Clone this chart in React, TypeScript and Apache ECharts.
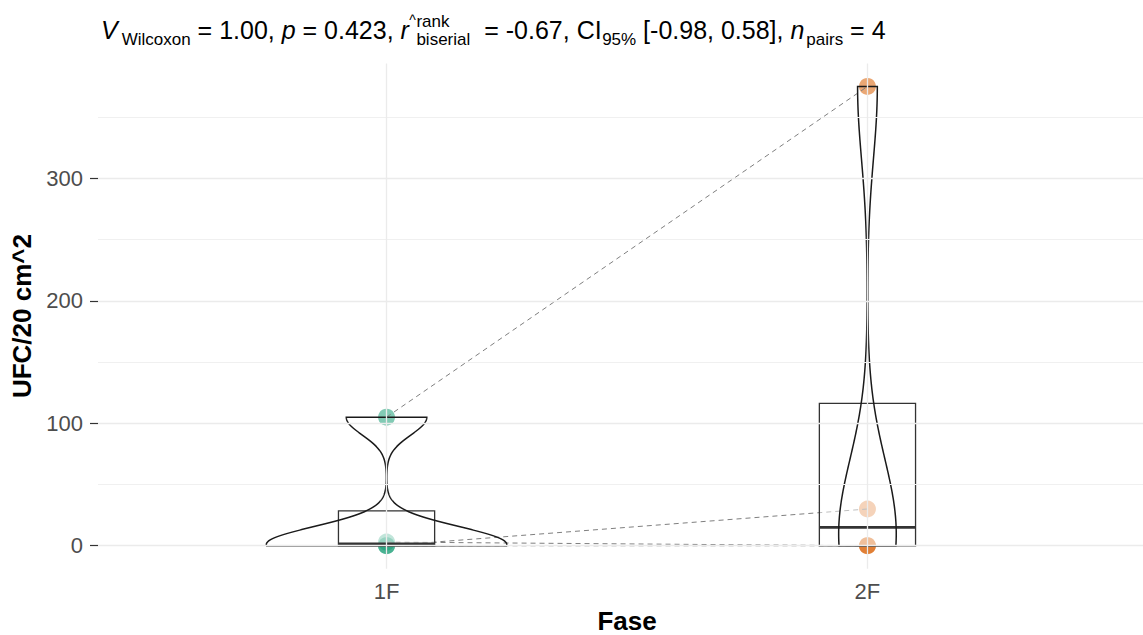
import React, { useEffect, useRef } from 'react';
import * as echarts from 'echarts';

// ---------------- data ----------------
const categories = ['1F', '2F'];
// paired observations (same subject order in both phases)
const valuesF1 = [0, 0, 3, 105];
const valuesF2 = [0, 30, 0, 375];
const yTickValues = [0, 100, 200, 300];
const yMinorValues = [50, 150, 250, 350];
const groupColors = ['#1B9E77', '#D95F02'];
const xAxisTitle = 'Fase';
const yAxisTitle = 'UFC/20 cm^2';

const FONT = '"Liberation Sans", Arial, Helvetica, sans-serif';

// ---------------- statistics helpers ----------------
function quantile7(arr: number[], p: number) {
  const s = [...arr].sort((a, b) => a - b);
  const h = (s.length - 1) * p;
  const lo = Math.floor(h);
  const hi = Math.min(lo + 1, s.length - 1);
  return s[lo] + (h - lo) * (s[hi] - s[lo]);
}
function bwNrd0(x: number[]) {
  const n = x.length;
  const mean = x.reduce((a, b) => a + b, 0) / n;
  const sd = Math.sqrt(x.reduce((a, b) => a + (b - mean) ** 2, 0) / (n - 1));
  const iqr = quantile7(x, 0.75) - quantile7(x, 0.25);
  let lo = Math.min(sd, iqr / 1.34);
  if (!lo) lo = sd || Math.abs(x[0]) || 1;
  return 0.9 * lo * Math.pow(n, -0.2);
}
function kde(x: number[], nPts = 256) {
  const bw = bwNrd0(x);
  const mn = Math.min(...x);
  const mx = Math.max(...x);
  const out: [number, number][] = [];
  for (let i = 0; i < nPts; i++) {
    const y = mn + ((mx - mn) * i) / (nPts - 1);
    let d = 0;
    for (const xi of x) d += Math.exp(-0.5 * ((y - xi) / bw) ** 2);
    d /= x.length * bw * Math.sqrt(2 * Math.PI);
    out.push([y, d]);
  }
  return out;
}
function boxStats(x: number[]) {
  const q1 = quantile7(x, 0.25);
  const med = quantile7(x, 0.5);
  const q3 = quantile7(x, 0.75);
  const iqr = q3 - q1;
  const inside = x.filter((v) => v >= q1 - 1.5 * iqr && v <= q3 + 1.5 * iqr);
  return { q1, med, q3, lo: Math.min(...inside), hi: Math.max(...inside) };
}

const groups = [valuesF1, valuesF2];

export default function App() {
  const ref = useRef<HTMLDivElement>(null);

  useEffect(() => {
    if (!ref.current) return;
    const chart = echarts.init(ref.current, null, { renderer: 'svg' });

    const densities = groups.map((g) => kde(g));
    const globalMax = Math.max(...densities.map((d) => Math.max(...d.map((p) => p[1]))));
    const violins = densities.map((d, i) => ({
      x: i + 1,
      curve: d.map(([y, v]) => [y, (0.25 * v) / globalMax] as [number, number]),
    }));
    const boxes = groups.map((g, i) => ({ x: i + 1, ...boxStats(g) }));

    const all = [...valuesF1, ...valuesF2];
    const dMin = Math.min(...all);
    const dMax = Math.max(...all);
    const span = dMax - dMin;
    const yMin = dMin - 0.05 * span;
    const yMax = dMax + 0.05 * span;

    // ---- subtitle layout (plotmath-like, sequential) ----
    const S = 25;
    const s = 17;
    const baseMain = 39;
    const baseSub = 45;
    const baseSup = 27;
    const canvas = document.createElement('canvas');
    const ctx = canvas.getContext('2d')!;
    const measure = (t: string, size: number, italic?: boolean) => {
      ctx.font = `${italic ? 'italic ' : ''}${size}px "Liberation Sans", Arial`;
      return ctx.measureText(t).width;
    };
    const texts: any[] = [];
    let cx = 101;
    const put = (t: string, size: number, italic: boolean, baseline: number, gap = 0) => {
      const lead = t.length - t.trimStart().length;
      const trail = t.length - t.trimEnd().length;
      const core = t.trim();
      const sp = measure(' ', size);
      const x = cx + gap + lead * sp;
      const w = measure(core, size, italic);
      texts.push({
        type: 'text',
        x,
        y: baseline - 0.35 * size,
        style: {
          text: core,
          font: `${italic ? 'italic ' : ''}${size}px ${FONT}`,
          fill: '#000000',
          align: 'left',
          verticalAlign: 'middle',
        },
      });
      cx = x + w + trail * sp;
      return { x, w };
    };
    put('V', S, true, baseMain);
    put('Wilcoxon', s, false, baseSub, 4);
    put(' = 1.00, ', S, false, baseMain);
    put('p', S, true, baseMain);
    put(' = 0.423, ', S, false, baseMain);
    const r = put('r', S, true, baseMain);
    // hat, set just right of the italic r (as plotmath draws it)
    const hat = put('^', 14, false, 25, 0.5);
    const stackX = hat.x + hat.w + 0.5;
    cx = stackX;
    const a = put('rank', s, false, baseSup);
    cx = stackX;
    const b = put('biserial', s, false, baseSub);
    cx = stackX + Math.max(a.w, b.w) + 7;
    put(' = -0.67, CI', S, false, baseMain);
    put('95%', s, false, baseSub, 0.5);
    put(' [-0.98, 0.58], ', S, false, baseMain);
    put('n', S, true, baseMain);
    put('pairs', s, false, baseSub, 2);
    put(' = 4', S, false, baseMain);
    void r;

    const pairSeries = valuesF1.map((v, i) => ({
      type: 'line',
      data: [
        [1, v],
        [2, valuesF2[i]],
      ],
      symbol: 'none',
      silent: true,
      z: 2,
      lineStyle: { color: '#7f7f7f', width: 1, type: [5, 4] },
    }));

    const option: any = {
      animation: false,
      textStyle: { fontFamily: FONT },
      grid: { left: 98, right: -13, top: 63.5, bottom: 66.3, containLabel: false, outerBoundsMode: 'none' },
      graphic: texts,
      xAxis: {
        type: 'value',
        min: 0.4,
        max: 2.6,
        axisLine: { show: false },
        splitLine: { show: false },
        axisTick: { show: true, customValues: [1, 2], length: 7, lineStyle: { color: '#333333', width: 1.2 } },
        axisLabel: {
          customValues: [1, 2],
          formatter: (v: number) => categories[Math.round(v) - 1] ?? '',
          fontSize: 22,
          color: '#4D4D4D',
          margin: 12,
          fontFamily: FONT,
        },
        name: xAxisTitle,
        nameLocation: 'middle',
        nameGap: 37,
        nameTextStyle: { fontWeight: 'bold', fontSize: 26, color: '#000', fontFamily: FONT },
      },
      yAxis: {
        type: 'value',
        min: yMin,
        max: yMax,
        axisLine: { show: false },
        splitLine: { show: false },
        axisTick: { show: true, customValues: yTickValues, length: 8, lineStyle: { color: '#333333', width: 1.2 } },
        axisLabel: {
          customValues: yTickValues,
          fontSize: 22,
          color: '#4D4D4D',
          margin: 15,
          fontFamily: FONT,
        },
        name: yAxisTitle,
        nameLocation: 'middle',
        nameGap: 58,
        nameTextStyle: { fontWeight: 'bold', fontSize: 26, color: '#000', fontFamily: FONT },
      },
      series: [
        {
          type: 'line',
          data: [],
          silent: true,
          z: 0,
          markLine: {
            silent: true,
            symbol: 'none',
            label: { show: false },
            animation: false,
            data: [
              ...yTickValues.map((v) => ({ yAxis: v, lineStyle: { color: '#EBEBEB', width: 1.3, type: 'solid' } })),
              ...yMinorValues.map((v) => ({ yAxis: v, lineStyle: { color: '#F0F0F0', width: 1, type: 'solid' } })),
              ...categories.map((_, i) => ({ xAxis: i + 1, lineStyle: { color: '#EBEBEB', width: 1.3, type: 'solid' } })),
            ],
          },
        },
        ...groups.map((g, i) => ({
          type: 'scatter',
          name: categories[i],
          data: g.map((v) => [i + 1, v]),
          symbolSize: 17,
          z: 1,
          itemStyle: { color: groupColors[i], opacity: 0.55 },
        })),
        ...pairSeries,
        {
          type: 'custom',
          z: 3,
          silent: true,
          data: boxes.map((b) => [b.x, b.med]),
          renderItem: (params: any, api: any) => {
            const bx = boxes[params.dataIndex];
            const tl = api.coord([bx.x - 0.1, bx.q3]);
            const br = api.coord([bx.x + 0.1, bx.q1]);
            const ml = api.coord([bx.x - 0.1, bx.med]);
            const mr = api.coord([bx.x + 0.1, bx.med]);
            const children: any[] = [];
            if (bx.hi > bx.q3) {
              const p1 = api.coord([bx.x, bx.q3]);
              const p2 = api.coord([bx.x, bx.hi]);
              children.push({ type: 'line', shape: { x1: p1[0], y1: p1[1], x2: p2[0], y2: p2[1] }, style: { stroke: '#333', lineWidth: 1.3 } });
            }
            if (bx.lo < bx.q1) {
              const p1 = api.coord([bx.x, bx.q1]);
              const p2 = api.coord([bx.x, bx.lo]);
              children.push({ type: 'line', shape: { x1: p1[0], y1: p1[1], x2: p2[0], y2: p2[1] }, style: { stroke: '#333', lineWidth: 1.3 } });
            }
            children.push({
              type: 'rect',
              shape: { x: tl[0], y: tl[1], width: br[0] - tl[0], height: br[1] - tl[1] },
              style: { fill: 'rgba(255,255,255,0.5)', stroke: '#333333', lineWidth: 1.3 },
            });
            children.push({
              type: 'line',
              shape: { x1: ml[0], y1: ml[1], x2: mr[0], y2: mr[1] },
              style: { stroke: '#333333', lineWidth: 2.8 },
            });
            return { type: 'group', children };
          },
        },
        {
          type: 'custom',
          z: 4,
          silent: true,
          data: violins.map((v) => [v.x, 0]),
          renderItem: (params: any, api: any) => {
            const v = violins[params.dataIndex];
            const pts: number[][] = [];
            for (const [y, w] of v.curve) pts.push(api.coord([v.x + w, y]));
            for (let k = v.curve.length - 1; k >= 0; k--) {
              const [y, w] = v.curve[k];
              pts.push(api.coord([v.x - w, y]));
            }
            return {
              type: 'polygon',
              shape: { points: pts },
              style: { fill: 'none', stroke: '#1a1a1a', lineWidth: 1.5 },
            };
          },
        },
      ],
    };

    chart.setOption(option);
    return () => chart.dispose();
  }, []);

  return (
    <div
      ref={ref}
      style={{ position: 'absolute', left: 0, top: 0, width: 1143, height: 635, background: '#ffffff' }}
    />
  );
}
